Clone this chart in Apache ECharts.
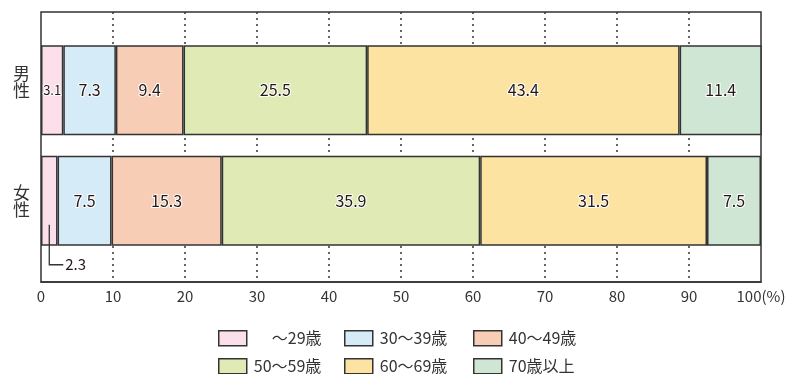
<!DOCTYPE html>
<html>
<head>
<meta charset="utf-8">
<script src="https://cdn.jsdelivr.net/npm/echarts@6/dist/echarts.min.js"></script>
<style>
  html, body { margin: 0; padding: 0; background: #fff; }
  #chart { width: 806px; height: 374px; }
</style>
</head>
<body>
<div id="chart"></div>
<script>
// 性別・年齢階級別の構成比（%）
const categories = ['男性', '女性'];
const ageGroups = ['～29歳', '30～39歳', '40～49歳', '50～59歳', '60～69歳', '70歳以上'];
const maleValues = [3.1, 7.3, 9.4, 25.5, 43.4, 11.4];
const femaleValues = [2.3, 7.5, 15.3, 35.9, 31.5, 7.5];
const xTicks = [0, 10, 20, 30, 40, 50, 60, 70, 80, 90, 100];

const colors = ['#fbe0ec', '#d5ebf8', '#f8cdb5', '#dfeab5', '#fde3a2', '#cfe6d4'];
const FONT = '"Noto Sans CJK JP", "Noto Sans", sans-serif';
const INK = '#333333';

const chart = echarts.init(document.getElementById('chart'), null, { renderer: 'canvas' });

const valueLabel = {
  show: true,
  position: 'inside',
  color: '#231815',
  fontFamily: FONT,
  fontSize: 16,
  textBorderColor: '#ffffff',
  textBorderWidth: 2,
  formatter: p => p.value.toFixed(1)
};

const series = ageGroups.map((name, i) => ({
  name: name,
  type: 'bar',
  stack: 'total',
  xAxisIndex: 1,
  yAxisIndex: 1,
  barWidth: 90,
  itemStyle: { color: colors[i], borderColor: INK, borderWidth: 1.5 },
  label: valueLabel,
  emphasis: { disabled: true },
  data: [
    // narrow segment: smaller text
    i === 0 ? { value: maleValues[i], label: { fontSize: 13 } } : maleValues[i],
    // the 2.3 segment is labelled outside with a leader line
    i === 0 ? { value: femaleValues[i], label: { show: false } } : femaleValues[i]
  ]
}));

// legend positions: 3 columns x 2 rows
const legendCols = [218, 344, 473];
const legendRows = [330, 358];
const legends = ageGroups.map((name, i) => ({
  data: [name],
  left: legendCols[i % 3],
  top: legendRows[Math.floor(i / 3)],
  padding: 0,
  itemWidth: 28,
  itemHeight: 15,
  icon: 'rect',
  selectedMode: false,
  itemStyle: { borderColor: INK, borderWidth: 1.5 },
  textStyle: {
    color: INK,
    fontFamily: FONT,
    fontSize: 16,
    padding: i === 0 ? [0, 0, 0, 20] : [0, 0, 0, 2]
  }
}));

chart.setOption({
  animation: false,
  color: colors,
  legend: legends,
  grid: [
    { left: 41, right: 45, top: 12, bottom: 92, show: true, borderColor: INK, borderWidth: 1.5, backgroundColor: 'transparent' },
    { left: 41, right: 45, top: 35, height: 221 }
  ],
  xAxis: [
    {
      gridIndex: 0,
      type: 'value',
      min: xTicks[0],
      max: xTicks[xTicks.length - 1],
      interval: 10,
      axisLine: { show: true, lineStyle: { color: INK, width: 1.5 } },
      axisTick: { show: false },
      axisLabel: {
        color: INK,
        fontFamily: FONT,
        fontSize: 15,
        margin: 7,
        formatter: v => (v === 100 ? '100(%)' : String(v))
      },
      splitLine: {
        show: true,
        showMinLine: false,
        showMaxLine: false,
        lineStyle: { color: INK, width: 1.5, type: [2, 4] }
      }
    },
    {
      gridIndex: 1,
      type: 'value',
      min: 0,
      max: 100,
      show: false,
      splitLine: { show: false }
    }
  ],
  yAxis: [
    { gridIndex: 0, type: 'value', show: false, splitLine: { show: false } },
    {
      gridIndex: 1,
      type: 'category',
      inverse: true,
      data: categories,
      axisLine: { show: false },
      axisTick: { show: false },
      axisLabel: {
        color: INK,
        fontFamily: FONT,
        fontSize: 17,
        lineHeight: 17,
        margin: 11,
        formatter: v => (v === '男性' ? v.split('').join('\n') + '\n ' : v.split('').join('\n'))
      }
    }
  ],
  series: series
});

// leader line + label for the narrow female segment
const seg = chart.convertToPixel({ xAxisIndex: 1, yAxisIndex: 1 }, [femaleValues[0] / 2, categories[1]]);
chart.setOption({
  graphic: [
    {
      type: 'polyline',
      shape: { points: [[seg[0], seg[1] + 24], [seg[0], seg[1] + 64], [seg[0] + 14, seg[1] + 64]] },
      style: { stroke: INK, lineWidth: 1.3, fill: null },
      z: 10
    },
    {
      type: 'text',
      x: seg[0] + 16,
      y: seg[1] + 64,
      style: {
        text: femaleValues[0].toFixed(1),
        fill: '#231815',
        font: '15px ' + FONT,
        verticalAlign: 'middle',
        align: 'left'
      },
      z: 10
    }
  ]
});
</script>
</body>
</html>
